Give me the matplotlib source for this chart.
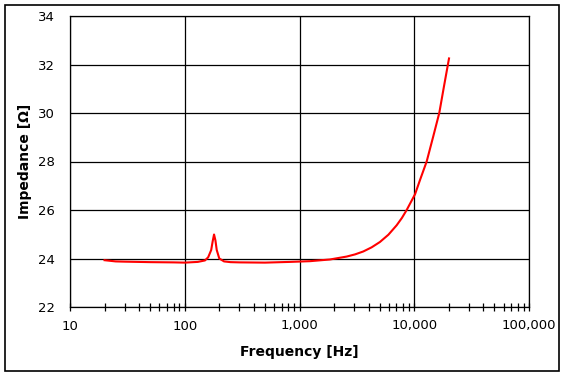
import numpy as np
import matplotlib
matplotlib.use("Agg")
import matplotlib.pyplot as plt
from matplotlib.patches import Rectangle
from matplotlib.ticker import FixedLocator, LogLocator, NullFormatter

# Impedance curve
freq = [20, 25, 30, 50, 80, 100, 130, 150, 160, 170, 175, 180, 185, 190, 200, 220,
        250, 300, 500, 826, 1236, 1845, 2577, 3050, 3597, 4250, 5020, 5950, 7025,
        7800, 8590, 10160, 11230, 12830, 14650, 16520, 18160, 20090]
imped = [23.93, 23.88, 23.87, 23.85, 23.84, 23.83, 23.86, 23.92, 24.05, 24.35, 24.7,
         24.99, 24.75, 24.35, 24.0, 23.88, 23.85, 23.84, 23.83, 23.86, 23.89, 23.96,
         24.08, 24.17, 24.29, 24.46, 24.68, 24.98, 25.37, 25.67, 26.0, 26.65, 27.24,
         28.0, 29.04, 30.0, 31.1, 32.25]

x_ticks = [10, 100, 1000, 10000, 100000]
x_labels = ["10", "100", "1,000", "10,000", "100,000"]
y_ticks = [22, 24, 26, 28, 30, 32, 34]

fig = plt.figure(figsize=(5.65, 3.77), dpi=100)
ax = fig.add_axes([70 / 565, 1 - 307 / 377, 459 / 565, 291 / 377])

ax.plot(freq, imped, color="#ff0000", linewidth=1.5)

ax.set_xscale("log")
ax.set_xlim(10, 100000)
ax.set_ylim(22, 34)
ax.xaxis.set_major_locator(FixedLocator(x_ticks))
ax.set_xticklabels(x_labels)
ax.xaxis.set_minor_locator(LogLocator(base=10, subs=np.arange(2, 10)))
ax.xaxis.set_minor_formatter(NullFormatter())
ax.set_yticks(y_ticks)

ax.grid(True, which="major", color="black", linewidth=0.9)
ax.tick_params(axis="x", which="both", direction="inout", length=6, width=0.9,
               labelsize=9.5, pad=6, colors="black")
ax.tick_params(axis="y", which="both", length=0, labelsize=9.5, pad=11)
for s in ax.spines.values():
    s.set_linewidth(0.9)

ax.set_xlabel("Frequency [Hz]", fontsize=10, fontweight="bold", labelpad=9)
ax.set_ylabel("Impedance [Ω]", fontsize=10, fontweight="bold", labelpad=4)

fig.patches.append(Rectangle((5 / 565, 1 - 371 / 377), 554 / 565, 366 / 377,
                             transform=fig.transFigure, fill=False,
                             edgecolor="black", linewidth=1.2))

fig.savefig("out.png", dpi=100)
